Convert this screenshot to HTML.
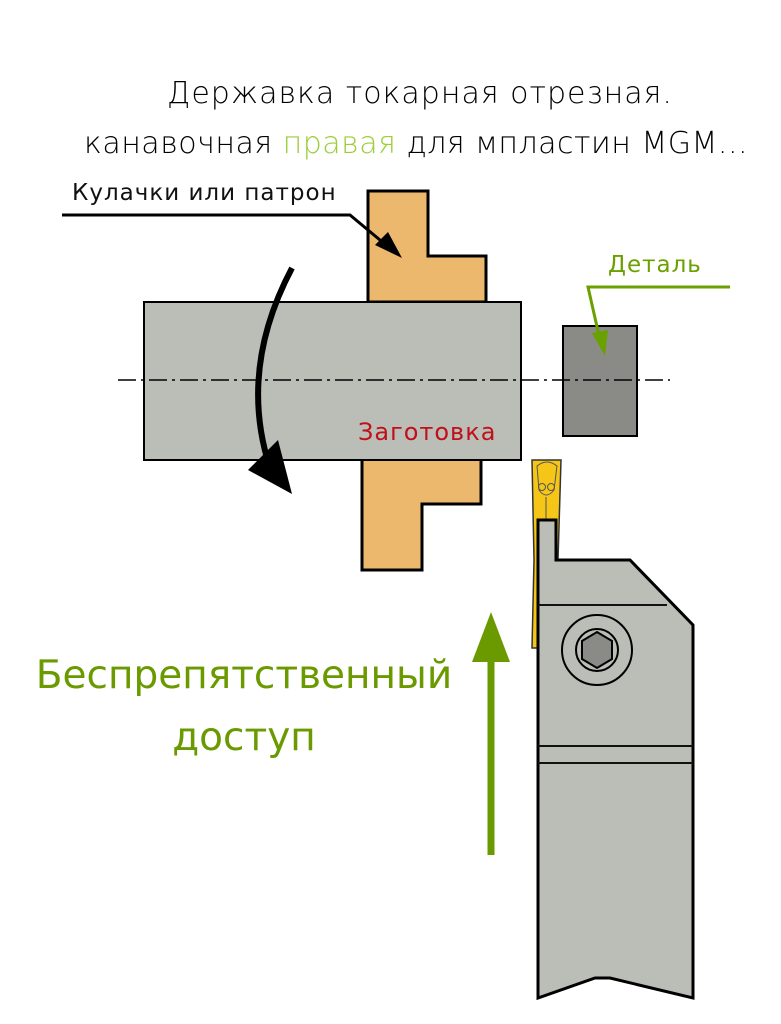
<!DOCTYPE html>
<html><head><meta charset="utf-8"><style>
html,body{margin:0;padding:0;background:#fff;}
svg{display:block;}
text{font-family:"DejaVu Sans","Liberation Sans",sans-serif;}
</style></head><body>
<svg width="781" height="1024" viewBox="0 0 781 1024" xmlns="http://www.w3.org/2000/svg">
<rect width="781" height="1024" fill="#fff"/>
<text x="420" y="103" font-size="30" text-anchor="middle" fill="#000" font-weight="300" letter-spacing="1">Державка токарная отрезная.</text>
<text x="84" y="153" font-size="30" fill="#000" font-weight="300" letter-spacing="0.5">канавочная <tspan fill="#9ccc3a">правая</tspan> для мпластин MGM...</text>
<text x="72" y="200" font-size="23" fill="#111" letter-spacing="1">Кулачки или патрон</text>
<text x="608" y="272" font-size="23" fill="#6aa000" letter-spacing="1">Деталь</text>
<polygon points="368,191 428,191 428,256 486,256 486,302 368,302" fill="#ebb86e" stroke="#000" stroke-width="3"/>
<polygon points="362,458 481,458 481,504 422,504 422,570 362,570" fill="#ebb86e" stroke="#000" stroke-width="3"/>
<rect x="144" y="302" width="377" height="158" fill="#bbbdb7" stroke="#000" stroke-width="2"/>
<rect x="563" y="326" width="74" height="110" fill="#8a8b86" stroke="#000" stroke-width="2"/>
<line x1="118" y1="380" x2="670" y2="380" stroke="#000" stroke-width="1.5" stroke-dasharray="18,5,3,5"/>
<text x="358" y="440" font-size="24" fill="#c0101a" letter-spacing="1">Заготовка</text>
<polyline points="62,215 350,215 392,250" fill="none" stroke="#000" stroke-width="3"/>
<polygon points="402,258 375,245 388,232" fill="#000"/>
<polyline points="730,287 588,287 600,340" fill="none" stroke="#6aa000" stroke-width="3"/>
<polygon points="605,356 592,333 608,330" fill="#6aa000"/>
<path d="M292,268 Q238,370 270,468" fill="none" stroke="#000" stroke-width="6"/>
<polygon points="248,470 292,494 278,440" fill="#000"/>
<polygon points="532,460 561,460 558,560 556,648 532,648 534,560" fill="#f5c518" stroke="#333" stroke-width="1.5"/>
<path d="M537,466 Q547,458 557,466 L554,490 Q546,500 539,490 Z" fill="none" stroke="#555" stroke-width="1"/>
<circle cx="542" cy="487" r="3.5" fill="none" stroke="#555" stroke-width="1"/>
<circle cx="551" cy="487" r="3.5" fill="none" stroke="#555" stroke-width="1"/>
<line x1="546" y1="497" x2="546" y2="520" stroke="#555" stroke-width="1"/>
<path d="M538,520 L556,520 L556,560 L630,560 L693,625 L693,998 L610,978 L595,978 L538,998 Z" fill="#bbbdb7" stroke="#000" stroke-width="3"/>
<line x1="538" y1="605" x2="667" y2="605" stroke="#111" stroke-width="2"/>
<line x1="538" y1="746" x2="693" y2="746" stroke="#111" stroke-width="2"/>
<line x1="538" y1="763" x2="693" y2="763" stroke="#111" stroke-width="2"/>
<circle cx="597" cy="650" r="35" fill="#bbbdb7" stroke="#000" stroke-width="2"/>
<circle cx="597" cy="650" r="21" fill="#bbbdb7" stroke="#000" stroke-width="2"/>
<polygon points="597,632 612,641 612,659 597,668 582,659 582,641" fill="#8a8b86" stroke="#000" stroke-width="2"/>
<line x1="491" y1="855" x2="491" y2="650" stroke="#6a9a00" stroke-width="7"/>
<polygon points="491,612 472,662 510,662" fill="#6a9a00"/>
<text x="244" y="688" font-size="39" fill="#6a9a00" text-anchor="middle">Беспрепятственный</text>
<text x="244" y="750" font-size="39" fill="#6a9a00" text-anchor="middle">доступ</text>
</svg>
</body></html>
